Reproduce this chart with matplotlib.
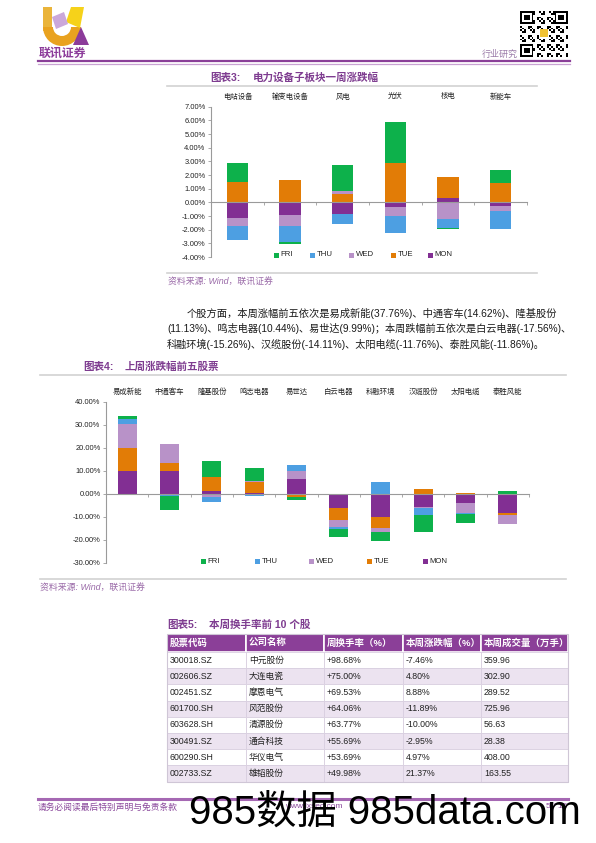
import numpy as np
import matplotlib
matplotlib.use('Agg')
import matplotlib.pyplot as plt
import matplotlib.transforms as mtransforms
from matplotlib.patches import Rectangle, Polygon, Wedge

plt.rcParams['font.family'] = ['Liberation Sans', 'Noto Sans CJK SC']
plt.rcParams['axes.unicode_minus'] = False

# ---- data ----
days = ['FRI', 'THU', 'WED', 'TUE', 'MON']

cats1 = ['电站设备', '输变电设备', '风电', '光伏', '核电', '新能车']
mon1 = [-1.12, -0.95, -0.85, -0.37, 0.29, -0.29]
tue1 = [1.47, 1.61, 0.59, 2.85, 1.59, 1.39]
wed1 = [-0.64, -0.76, 0.24, -0.63, -1.24, -0.37]
thu1 = [-1.00, -1.22, -0.71, -1.22, -0.61, -1.32]
fri1 = [1.38, -0.12, 1.93, 3.05, -0.13, 1.00]
yticks1 = [-4, -3, -2, -1, 0, 1, 2, 3, 4, 5, 6, 7]

cats2 = ['易成新能', '中通客车', '隆基股份', '鸣志电器', '易世达',
         '白云电器', '科融环境', '汉缆股份', '太阳电缆', '泰胜风能']
mon2 = [9.9, 9.9, 1.2, 0.4, 6.4, -6.4, -10.0, -5.8, -4.0, -8.3]
tue2 = [10.0, 3.3, 6.1, 4.8, -1.5, -5.0, -4.8, 2.0, 0.5, -1.0]
wed2 = [10.4, 8.2, -1.3, 0.3, 3.4, -2.9, -1.9, -0.2, -4.4, -4.0]
thu2 = [2.2, -0.9, -2.2, -1.2, 2.6, -0.9, 5.0, -3.4, -0.6, 0.0]
fri2 = [1.1, -6.1, 7.1, 5.7, -1.3, -3.8, -3.9, -7.4, -3.8, 1.3]
yticks2 = [-30, -20, -10, 0, 10, 20, 30, 40]

tbl_head = ['股票代码', '公司名称', '周换手率（%）', '本周涨跌幅（%）', '本周成交量（万手）']
codes = ['300018.SZ', '002606.SZ', '002451.SZ', '601700.SH',
         '603628.SH', '300491.SZ', '600290.SH', '002733.SZ']
names = ['中元股份', '大连电瓷', '摩恩电气', '风范股份',
         '清源股份', '通合科技', '华仪电气', '雄韬股份']
turnover = ['+98.68%', '+75.00%', '+69.53%', '+64.06%',
            '+63.77%', '+55.69%', '+53.69%', '+49.98%']
change = ['-7.46%', '4.80%', '8.88%', '-11.89%',
          '-10.00%', '-2.95%', '4.97%', '21.37%']
volume = ['359.96', '302.90', '289.52', '725.96',
          '56.63', '28.38', '408.00', '163.55']

para = ['个股方面，本周涨幅前五依次是易成新能(37.76%)、中通客车(14.62%)、隆基股份',
        '(11.13%)、鸣志电器(10.44%)、易世达(9.99%)；本周跌幅前五依次是白云电器(-17.56%)、',
        '科融环境(-15.26%)、汉缆股份(-14.11%)、太阳电缆(-11.76%)、泰胜风能(-11.86%)。']

colors = {'MON': '#822f93', 'TUE': '#e27c06', 'WED': '#b892c8',
          'THU': '#4d9fe2', 'FRI': '#0db14b'}
PURPLE = '#7e3c90'

W, H = 596, 843
fig = plt.figure(figsize=(W / 100, H / 100), dpi=100)
fig.patch.set_facecolor('white')


def box(x0, y0, x1, y1):
    return [x0 / W, 1 - y1 / H, (x1 - x0) / W, (y1 - y0) / H]


page = fig.add_axes([0, 0, 1, 1])
page.axis('off')


def stacked(ax, cats, series, width):
    x = np.arange(len(cats)) + 0.5
    pos = np.zeros(len(cats))
    neg = np.zeros(len(cats))
    for d in ['MON', 'TUE', 'WED', 'THU', 'FRI']:
        v = np.array(series[d], dtype=float)
        bottom = np.where(v >= 0, pos, neg)
        ax.bar(x, v, width, bottom=bottom, color=colors[d], edgecolor='none', zorder=2)
        pos += np.clip(v, 0, None)
        neg += np.clip(v, None, 0)


def style_axis(ax, cats, yticks, label_y):
    n = len(cats)
    ax.set_xlim(0, n)
    ax.set_ylim(yticks[0], yticks[-1])
    ax.set_yticks(yticks)
    ax.set_yticklabels(['%.2f%%' % t for t in yticks], fontsize=5.4, color='#222222')
    ax.set_xticks(range(n + 1))
    ax.set_xticklabels([])
    for s in ['top', 'right']:
        ax.spines[s].set_visible(False)
    ax.spines['bottom'].set_position(('data', 0))
    ax.spines['bottom'].set_color('#9a9a9a')
    ax.spines['left'].set_color('#9a9a9a')
    ax.spines['bottom'].set_linewidth(0.8)
    ax.spines['left'].set_linewidth(0.8)
    ax.tick_params(axis='y', length=2.5, width=0.6, color='#9a9a9a', pad=1.5)
    ax.tick_params(axis='x', length=2.5, width=0.6, color='#9a9a9a', direction='out')
    ax.patch.set_alpha(0)
    tr = mtransforms.blended_transform_factory(ax.transData, ax.transAxes)
    for i, c in enumerate(cats):
        ax.text(i + 0.5, label_y, c, transform=tr, ha='center', va='center',
                fontsize=5.3, color='#222222')


def legend(xs, y):
    for d, x in zip(days, xs):
        page.add_patch(Rectangle((x - 2.5, y - 2.5), 5, 5, color=colors[d], lw=0))
        page.text(x + 4.5, y, d, fontsize=5.6, va='center', ha='left', color='#222222')


# ---- header ----
qr = np.zeros((25, 25))
ii, jj = np.indices(qr.shape)
qr[((ii * 7 + jj * 13 + ii * jj) % 5) < 2] = 1
for (r0, c0) in [(0, 0), (0, 18), (18, 0)]:
    qr[r0:r0 + 7, c0:c0 + 7] = 1
    qr[r0 + 1:r0 + 6, c0 + 1:c0 + 6] = 0
    qr[r0 + 2:r0 + 5, c0 + 2:c0 + 5] = 1
qr[10:15, 10:15] = 0
page.imshow(qr, cmap='Greys', extent=(520, 568, 57, 11), interpolation='nearest', zorder=1)
page.set_xlim(0, W)
page.set_ylim(H, 0)
page.set_aspect('auto')
page.add_patch(Rectangle((540, 29), 8, 8, color='#f1c232', lw=0, zorder=2))

page.add_patch(Rectangle((43, 7), 9, 24, color='#eab43a', lw=0))
page.add_patch(Wedge((62, 27), 19, 0, 180, width=10, color='#e9a21f', lw=0))
page.add_patch(Polygon([(71, 7), (84, 7), (80, 28), (66, 22)], closed=True, color='#f6d21a', lw=0))
page.add_patch(Polygon([(52, 17), (64, 12), (68, 24), (56, 29)], closed=True, color='#cba8da', lw=0))
page.add_patch(Polygon([(81, 27), (89, 45), (73, 45)], closed=True, color='#8c3b9a', lw=0))
page.text(39, 54, '联讯证券', fontsize=8.6, fontweight='bold', color='#8c3b9a', va='center', ha='left')

page.text(518, 54, '行业研究', fontsize=6.5, color='#9a7aa8', ha='right', va='center')
page.plot([38, 570], [61, 61], color='#8a3f98', lw=1.6)
page.plot([38, 570], [63.6, 63.6], color='#c9a3d3', lw=0.9)

# ---- chart 1 ----
page.text(210, 78, '图表3:', fontsize=7.6, color=PURPLE, fontweight='bold', va='center')
page.text(253, 78, '电力设备子板块一周涨跌幅', fontsize=7.6, color=PURPLE, fontweight='bold', va='center')
page.plot([167, 537], [86, 86], color='#d2d2d2', lw=1.2)

ax1 = fig.add_axes(box(211, 106.7, 527, 257))
stacked(ax1, cats1, {'MON': mon1, 'TUE': tue1, 'WED': wed1, 'THU': thu1, 'FRI': fri1}, 0.41)
style_axis(ax1, cats1, yticks1, 1.065)
legend([276, 312, 351, 393, 430], 255)
page.plot([167, 537], [273, 273], color='#d2d2d2', lw=1.2)
page.text(168, 282, '资料来源: Wind，联讯证券', fontsize=6.4, style='italic', color='#9a6aa8', va='center')

# ---- paragraph ----
page.text(187, 313, para[0], fontsize=7.4, color='#1a1a1a', va='center')
page.text(167, 328.5, para[1], fontsize=7.3, color='#1a1a1a', va='center')
page.text(167, 344, para[2], fontsize=7.3, color='#1a1a1a', va='center')

# ---- chart 2 ----
page.text(83, 367, '图表4:', fontsize=7.6, color=PURPLE, fontweight='bold', va='center')
page.text(125, 367, '上周涨跌幅前五股票', fontsize=7.6, color=PURPLE, fontweight='bold', va='center')
page.plot([40, 566], [375, 375], color='#d2d2d2', lw=1.2)

ax2 = fig.add_axes(box(106, 401.7, 529, 562.7))
stacked(ax2, cats2, {'MON': mon2, 'TUE': tue2, 'WED': wed2, 'THU': thu2, 'FRI': fri2}, 0.45)
style_axis(ax2, cats2, yticks2, 1.06)
legend([203, 257, 311, 369, 425], 561.7)
page.plot([40, 566], [579, 579], color='#d2d2d2', lw=1.2)
page.text(40, 588, '资料来源: Wind，联讯证券', fontsize=6.4, style='italic', color='#9a6aa8', va='center')

# ---- table ----
page.text(167, 625, '图表5:', fontsize=7.6, color=PURPLE, fontweight='bold', va='center')
page.text(209, 625, '本周换手率前 10 个股', fontsize=7.6, color=PURPLE, fontweight='bold', va='center')
cols = [167, 246, 324, 403, 481, 568]
top, head_h, row_h = 634, 18, 16.2
for c in range(5):
    page.add_patch(Rectangle((cols[c], top), cols[c + 1] - cols[c], head_h,
                             facecolor='#8b3f98', edgecolor='white', lw=1.2))
    page.text(cols[c] + 3, top + head_h / 2, tbl_head[c], fontsize=6.8, color='white',
              fontweight='bold', va='center')
rows = list(zip(codes, names, turnover, change, volume))
for r, row in enumerate(rows):
    y = top + head_h + r * row_h
    fc = '#ffffff' if r % 2 == 0 else '#ece3f0'
    for c in range(5):
        page.add_patch(Rectangle((cols[c], y), cols[c + 1] - cols[c], row_h,
                                 facecolor=fc, edgecolor='#d9cfe0', lw=0.6))
        page.text(cols[c] + 3, y + row_h / 2, row[c], fontsize=6.3, color='#222222', va='center')
page.add_patch(Rectangle((cols[0], top), cols[-1] - cols[0], head_h + row_h * len(rows),
                         facecolor='none', edgecolor='#cfc6d6', lw=0.8))

# ---- footer ----
page.plot([38, 568], [799, 799], color='#a568b3', lw=2.2)
page.text(38, 807, '请务必阅读最后特别声明与免责条款', fontsize=6.3, color='#8b4a9c', va='center')
page.text(285, 807, 'www.lxsec.com', fontsize=6, color='#8b4a9c', va='center')
page.text(567, 806, '5 / 15', fontsize=6, color='#8b4a9c', va='center', ha='right')
page.text(189, 813, '985数据 985data.com', fontsize=29, color='black', va='center', ha='left', zorder=5)

fig.savefig('out.png', dpi=100)
